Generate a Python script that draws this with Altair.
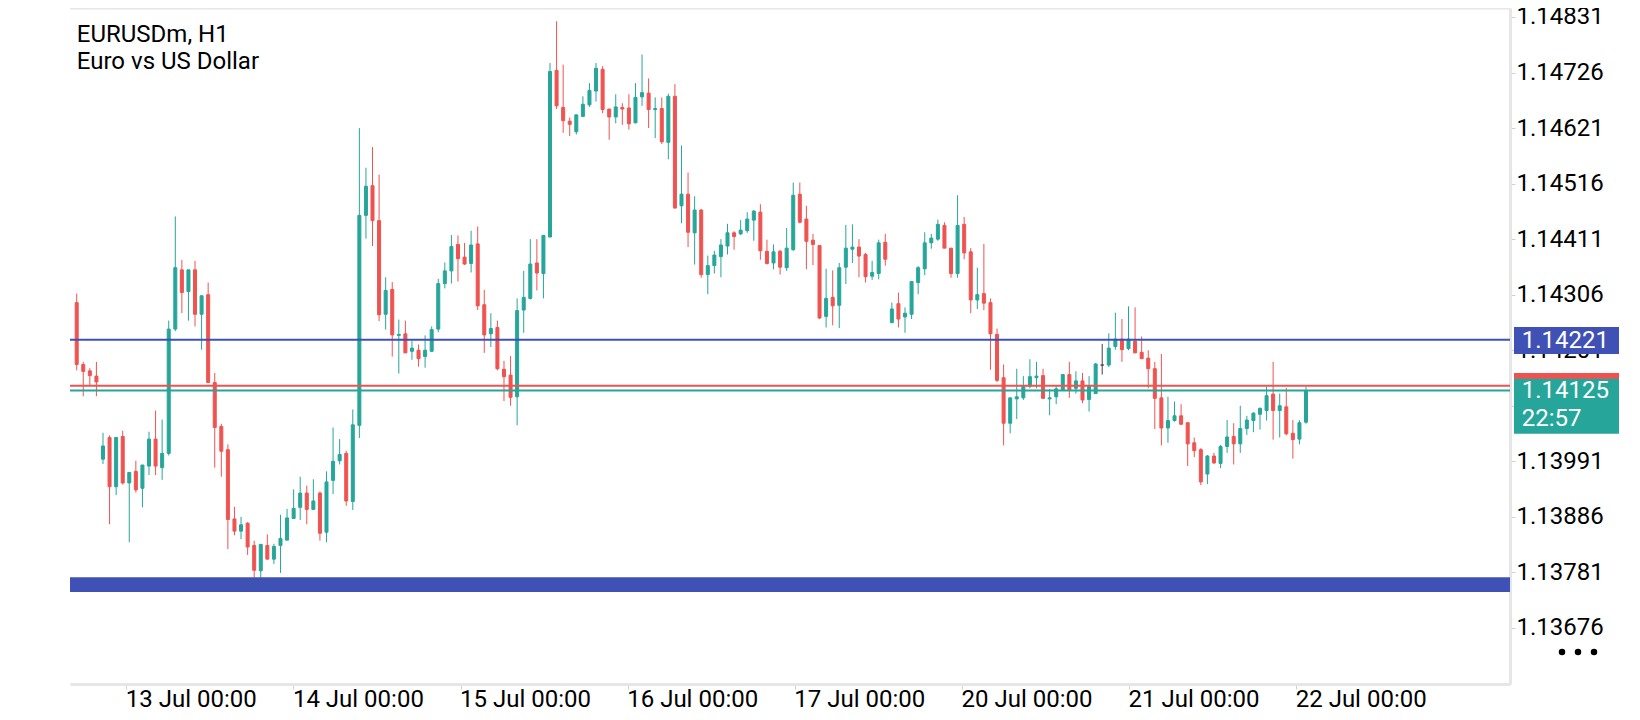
import json
import altair as alt
import pandas as pd

# ---------------- data (EURUSDm, H1) ----------------
opens = [1.14291, 1.14174, 1.14162, 1.14152, 1.13995, 1.14036, 1.13943, 1.14038, 1.13950, 1.13972,
         1.13940, 1.13982, 1.14033, 1.13979, 1.14006, 1.14241, 1.14353, 1.14312, 1.14353, 1.14269,
         1.14306, 1.14140, 1.14057, 1.14013, 1.13882, 1.13859, 1.13874, 1.13832, 1.13784, 1.13832,
         1.13806, 1.13832, 1.13842, 1.13883, 1.13904, 1.13931, 1.13900, 1.13931, 1.13857, 1.13955,
         1.13992, 1.14006, 1.13915, 1.14059, 1.14456, 1.14512, 1.14446, 1.14269, 1.14316, 1.14229,
         1.14232, 1.14199, 1.14201, 1.14189, 1.14199, 1.14241, 1.14327, 1.14351, 1.14401, 1.14377,
         1.14365, 1.14402, 1.14287, 1.14232, 1.14244, 1.14165, 1.14154, 1.14113, 1.14277, 1.14299,
         1.14366, 1.14346, 1.14415, 1.14730, 1.14660, 1.14634, 1.14614, 1.14643, 1.14665, 1.14691,
         1.14732, 1.14657, 1.14642, 1.14660, 1.14659, 1.14631, 1.14680, 1.14687, 1.14656, 1.14658,
         1.14594, 1.14681, 1.14474, 1.14496, 1.14423, 1.14466, 1.14344, 1.14361, 1.14378, 1.14398,
         1.14423, 1.14421, 1.14427, 1.14447, 1.14462, 1.14388, 1.14366, 1.14388, 1.14357, 1.14391,
         1.14496, 1.14449, 1.14409, 1.14399, 1.14265, 1.14301, 1.14286, 1.14358, 1.14392, 1.14396,
         1.14382, 1.14341, 1.14346, 1.14405, 1.14253, 1.14289, 1.14264, 1.14269, 1.14329, 1.14355,
         1.14404, 1.14411, 1.14437, 1.14394, 1.14346, 1.14439, 1.14387, 1.14296, 1.14308, 1.14291,
         1.14231, 1.14149, 1.14063, 1.14109, 1.14111, 1.14133, 1.14149, 1.14153, 1.14109, 1.14113,
         1.14126, 1.14155, 1.14129, 1.14143, 1.14108, 1.14119, 1.14173, 1.14173, 1.14208, 1.14222,
         1.14204, 1.14218, 1.14197, 1.14186, 1.14166, 1.14111, 1.14054, 1.14068, 1.14077, 1.14064,
         1.14026, 1.14013, 1.13967, 1.14001, 1.13987, 1.14019, 1.14038, 1.14024, 1.14053, 1.14068,
         1.14080, 1.14087, 1.14118, 1.14087, 1.14094, 1.14044, 1.14033, 1.14065]
highs = [1.14308, 1.14179, 1.14167, 1.14179, 1.14045, 1.14040, 1.14036, 1.14049, 1.13970, 1.13992,
         1.13984, 1.14047, 1.14087, 1.14070, 1.14257, 1.14454, 1.14372, 1.14353, 1.14370, 1.14304,
         1.14329, 1.14158, 1.14062, 1.14023, 1.13905, 1.13886, 1.13876, 1.13841, 1.13834, 1.13853,
         1.13835, 1.13890, 1.13901, 1.13938, 1.13962, 1.13945, 1.13957, 1.13934, 1.13972, 1.14055,
         1.14033, 1.14011, 1.14089, 1.14621, 1.14546, 1.14585, 1.14533, 1.14339, 1.14330, 1.14259,
         1.14257, 1.14219, 1.14212, 1.14229, 1.14246, 1.14336, 1.14367, 1.14419, 1.14418, 1.14404,
         1.14427, 1.14435, 1.14315, 1.14271, 1.14257, 1.14181, 1.14190, 1.14299, 1.14351, 1.14411,
         1.14411, 1.14419, 1.14744, 1.14823, 1.14741, 1.14641, 1.14646, 1.14681, 1.14706, 1.14744,
         1.14738, 1.14657, 1.14685, 1.14668, 1.14685, 1.14706, 1.14760, 1.14715, 1.14679, 1.14679,
         1.14686, 1.14704, 1.14588, 1.14537, 1.14492, 1.14468, 1.14380, 1.14389, 1.14411, 1.14440,
         1.14426, 1.14447, 1.14462, 1.14466, 1.14477, 1.14410, 1.14401, 1.14391, 1.14432, 1.14518,
         1.14518, 1.14474, 1.14421, 1.14399, 1.14355, 1.14352, 1.14366, 1.14438, 1.14439, 1.14411,
         1.14385, 1.14370, 1.14410, 1.14421, 1.14291, 1.14310, 1.14282, 1.14331, 1.14360, 1.14424,
         1.14421, 1.14448, 1.14443, 1.14394, 1.14494, 1.14453, 1.14394, 1.14357, 1.14402, 1.14299,
         1.14242, 1.14174, 1.14111, 1.14166, 1.14152, 1.14184, 1.14179, 1.14166, 1.14128, 1.14135,
         1.14155, 1.14179, 1.14161, 1.14158, 1.14152, 1.14177, 1.14213, 1.14233, 1.14272, 1.14260,
         1.14284, 1.14282, 1.14227, 1.14201, 1.14179, 1.14194, 1.14113, 1.14104, 1.14099, 1.14064,
         1.14036, 1.14016, 1.14003, 1.14007, 1.14022, 1.14069, 1.14063, 1.14096, 1.14077, 1.14084,
         1.14093, 1.14132, 1.14179, 1.14119, 1.14130, 1.14069, 1.14069, 1.14132]
lows = [1.14163, 1.14114, 1.14135, 1.14114, 1.13986, 1.13872, 1.13927, 1.13947, 1.13838, 1.13932,
        1.13904, 1.13965, 1.13965, 1.13956, 1.14002, 1.14237, 1.14271, 1.14257, 1.14246, 1.14202,
        1.14140, 1.13979, 1.13962, 1.13825, 1.13851, 1.13844, 1.13814, 1.13771, 1.13769, 1.13806,
        1.13797, 1.13780, 1.13842, 1.13883, 1.13880, 1.13872, 1.13900, 1.13841, 1.13838, 1.13929,
        1.13985, 1.13907, 1.13899, 1.14035, 1.14412, 1.14398, 1.14256, 1.14240, 1.14189, 1.14157,
        1.14196, 1.14183, 1.14170, 1.14168, 1.14198, 1.14235, 1.14318, 1.14327, 1.14331, 1.14362,
        1.14348, 1.14277, 1.14196, 1.14207, 1.14163, 1.14105, 1.14096, 1.14059, 1.14234, 1.14297,
        1.14314, 1.14299, 1.14415, 1.14657, 1.14612, 1.14606, 1.14609, 1.14643, 1.14661, 1.14671,
        1.14649, 1.14599, 1.14630, 1.14627, 1.14618, 1.14630, 1.14663, 1.14621, 1.14602, 1.14591,
        1.14562, 1.14468, 1.14441, 1.14396, 1.14363, 1.14338, 1.14307, 1.14346, 1.14339, 1.14382,
        1.14391, 1.14419, 1.14423, 1.14408, 1.14372, 1.14363, 1.14354, 1.14344, 1.14351, 1.14389,
        1.14441, 1.14354, 1.14362, 1.14260, 1.14244, 1.14248, 1.14243, 1.14326, 1.14366, 1.14339,
        1.14329, 1.14334, 1.14335, 1.14361, 1.14253, 1.14244, 1.14234, 1.14260, 1.14307, 1.14343,
        1.14393, 1.14408, 1.14394, 1.14338, 1.14338, 1.14373, 1.14271, 1.14279, 1.14277, 1.14164,
        1.14141, 1.14021, 1.14044, 1.14071, 1.14107, 1.14129, 1.14129, 1.14110, 1.14078, 1.14099,
        1.14126, 1.14111, 1.14119, 1.14101, 1.14085, 1.14119, 1.14155, 1.14169, 1.14202, 1.14179,
        1.14201, 1.14196, 1.14185, 1.14129, 1.14052, 1.14021, 1.14026, 1.14066, 1.14061, 1.13982,
        1.13999, 1.13946, 1.13948, 1.13986, 1.13978, 1.14007, 1.13985, 1.14007, 1.14041, 1.14046,
        1.14051, 1.14068, 1.14032, 1.14036, 1.14040, 1.13996, 1.14023, 1.14062]
closes = [1.14174, 1.14161, 1.14153, 1.14141, 1.14020, 1.13943, 1.14036, 1.13950, 1.13970, 1.13937,
          1.13984, 1.14033, 1.13982, 1.14006, 1.14241, 1.14357, 1.14310, 1.14353, 1.14269, 1.14304,
          1.14140, 1.14055, 1.14010, 1.13881, 1.13859, 1.13871, 1.13829, 1.13785, 1.13834, 1.13806,
          1.13830, 1.13845, 1.13884, 1.13902, 1.13931, 1.13900, 1.13916, 1.13855, 1.13952, 1.13991,
          1.14004, 1.13916, 1.14060, 1.14456, 1.14511, 1.14446, 1.14268, 1.14314, 1.14230, 1.14231,
          1.14196, 1.14205, 1.14185, 1.14201, 1.14240, 1.14327, 1.14351, 1.14397, 1.14374, 1.14364,
          1.14400, 1.14285, 1.14230, 1.14242, 1.14166, 1.14151, 1.14112, 1.14276, 1.14301, 1.14364,
          1.14347, 1.14418, 1.14728, 1.14663, 1.14635, 1.14628, 1.14646, 1.14666, 1.14692, 1.14734,
          1.14656, 1.14642, 1.14661, 1.14657, 1.14629, 1.14679, 1.14688, 1.14656, 1.14658, 1.14595,
          1.14681, 1.14470, 1.14496, 1.14424, 1.14466, 1.14344, 1.14361, 1.14381, 1.14400, 1.14423,
          1.14416, 1.14428, 1.14449, 1.14464, 1.14389, 1.14365, 1.14387, 1.14358, 1.14394, 1.14494,
          1.14443, 1.14407, 1.14401, 1.14262, 1.14299, 1.14285, 1.14357, 1.14394, 1.14396, 1.14379,
          1.14340, 1.14348, 1.14404, 1.14373, 1.14279, 1.14260, 1.14271, 1.14331, 1.14357, 1.14404,
          1.14413, 1.14439, 1.14394, 1.14346, 1.14437, 1.14385, 1.14296, 1.14306, 1.14290, 1.14232,
          1.14144, 1.14063, 1.14111, 1.14113, 1.14133, 1.14151, 1.14152, 1.14110, 1.14111, 1.14128,
          1.14155, 1.14126, 1.14143, 1.14107, 1.14133, 1.14175, 1.14173, 1.14205, 1.14222, 1.14202,
          1.14222, 1.14196, 1.14185, 1.14166, 1.14110, 1.14054, 1.14068, 1.14077, 1.14061, 1.14024,
          1.14011, 1.13952, 1.14001, 1.13988, 1.14019, 1.14037, 1.14024, 1.14053, 1.14069, 1.14082,
          1.14091, 1.14115, 1.14087, 1.14096, 1.14043, 1.14032, 1.14064, 1.14125]

x_tick_pos = [7.55, 32.97, 58.40, 83.82, 109.24, 134.67, 160.09, 185.51]
x_tick_labels = ["13 Jul 00:00", "14 Jul 00:00", "15 Jul 00:00", "16 Jul 00:00",
                 "17 Jul 00:00", "20 Jul 00:00", "21 Jul 00:00", "22 Jul 00:00"]
y_ticks = [1.14831, 1.14726, 1.14621, 1.14516, 1.14411, 1.14306,
           1.14201, 1.14096, 1.13991, 1.13886, 1.13781, 1.13676]

line_price = 1.14221
ask_price = 1.14134
bid_price = 1.14125
band_low, band_high = 1.13744, 1.13772
timer_text = "22:57"
title_lines = ["EURUSDm, H1", "Euro vs US Dollar"]

# ---------------- styling ----------------
GREEN = "#26a69a"
RED = "#ef5350"
BLUE = "#3f51b5"
GRID = "#e6e6e6"
FONT = "Roboto"
W, H = 1440, 676

n = len(opens)
df = pd.DataFrame({"idx": list(range(n)), "open": opens, "high": highs,
                   "low": lows, "close": closes})
df["dir"] = ["up" if c > o else ("down" if c < o else "flat") for o, c in zip(opens, closes)]

xscale = alt.Scale(domain=[-0.257, 217.27], nice=False, zero=False)
yscale = alt.Scale(domain=[1.13570, 1.14848], nice=False, zero=False)
cscale = alt.Scale(domain=["up", "down", "flat"], range=[GREEN, RED, "#424242"])

label_expr = "{}[round((datum.value - {}) / {})]".format(
    json.dumps(x_tick_labels), x_tick_pos[0], (x_tick_pos[-1] - x_tick_pos[0]) / (len(x_tick_pos) - 1))

xaxis = alt.Axis(values=x_tick_pos, labelExpr=label_expr, orient="bottom", title=None, grid=False,
                 domainColor=GRID, domainWidth=3, tickColor="#d0d0d0", tickSize=5, tickWidth=1,
                 labelFont=FONT, labelFontSize=24, labelColor="#000000", labelAlign="left",
                 labelBaseline="alphabetic", labelPadding=17, labelOffset=-1,
                 labelFlush=False, labelOverlap=False)
yaxis = alt.Axis(values=y_ticks, format=".5f", orient="right", title=None, grid=False,
                 domainColor=GRID, domainWidth=3, tickColor="#d0d0d0", tickSize=5, tickWidth=1,
                 labelFont=FONT, labelFontSize=24, labelColor="#000000", labelAlign="left",
                 labelBaseline="middle", labelPadding=1, labelFlush=False, labelOverlap=False)

base = alt.Chart(df)
wicks = base.mark_rule(strokeWidth=1, clip=True).encode(
    x=alt.X("idx:Q", scale=xscale, axis=xaxis),
    y=alt.Y("low:Q", scale=yscale, axis=yaxis),
    y2="high:Q",
    color=alt.Color("dir:N", scale=cscale, legend=None),
)
bodies = base.mark_bar(size=3, strokeWidth=1, clip=True).encode(
    x=alt.X("idx:Q", scale=xscale, axis=xaxis),
    y=alt.Y("open:Q", scale=yscale, axis=yaxis),
    y2="close:Q",
    color=alt.Color("dir:N", scale=cscale, legend=None),
    stroke=alt.Stroke("dir:N", scale=cscale, legend=None),
)

band = alt.Chart(pd.DataFrame({"lo": [band_low], "hi": [band_high]})).mark_rect(color=BLUE).encode(
    x=alt.value(0), x2=alt.value("width"),
    y=alt.Y("lo:Q", scale=yscale, axis=yaxis), y2="hi:Q",
)


def hline(price, color):
    return alt.Chart(pd.DataFrame({"price": [price]})).mark_rule(strokeWidth=2, color=color).encode(
        x=alt.value(0), x2=alt.value("width"),
        y=alt.Y("price:Q", scale=yscale, axis=yaxis),
    )


def tag(price, color, path):
    return alt.Chart(pd.DataFrame({"price": [price]})).mark_point(
        shape=path, filled=True, size=11025, opacity=1, strokeWidth=0, color=color
    ).encode(x=alt.value(1496.5), y=alt.Y("price:Q", scale=yscale, axis=yaxis))


def tag_label(price, text, dy):
    return alt.Chart(pd.DataFrame({"price": [price], "label": [text]})).mark_text(
        align="left", baseline="middle", font=FONT, fontSize=24, color="white", dy=dy
    ).encode(x=alt.value(1451.7), y=alt.Y("price:Q", scale=yscale, axis=yaxis), text="label:N")


one = alt.InlineData(values=[{"k": 1}])


def title_text(text, y):
    return alt.Chart(one).mark_text(align="left", baseline="alphabetic", font=FONT, fontSize=24,
                                    color="#000000").encode(
        x=alt.value(6.8), y=alt.value(y), text=alt.value(text))


top_border = alt.Chart(one).mark_rule(color=GRID, strokeWidth=3).encode(
    x=alt.value(0), x2=alt.value("width"), y=alt.value(0))

dots = [alt.Chart(one).mark_circle(size=42, color="#000000", opacity=1).encode(
    x=alt.value(dx), y=alt.value(644)) for dx in (1492, 1508, 1524)]

chart = alt.layer(
    wicks, bodies, band,
    hline(line_price, BLUE), hline(ask_price, RED), hline(bid_price, GREEN),
    top_border,
    tag(ask_price, RED, "M-1,-0.242H1V0.272H-1Z"),
    tag(bid_price, GREEN, "M-1,-0.223H1V0.825H-1Z"),
    tag(line_price, BLUE, "M-1,-0.242H1V0.272H-1Z"),
    tag_label(line_price, f"{line_price:.5f}", 1),
    tag_label(bid_price, f"{bid_price:.5f}", 1),
    tag_label(bid_price, timer_text, 29),
    title_text(title_lines[0], 33.7), title_text(title_lines[1], 61.3),
    *dots
).properties(
    width=W, height=H,
    padding={"left": 62, "top": 0, "right": 112, "bottom": 28},
    autosize=alt.AutoSizeParams(type="none"),
    background="white",
).configure(font=FONT).configure_view(strokeWidth=0, stroke="transparent")

chart.save("out.html", embed_options={"renderer": "svg", "actions": False})
